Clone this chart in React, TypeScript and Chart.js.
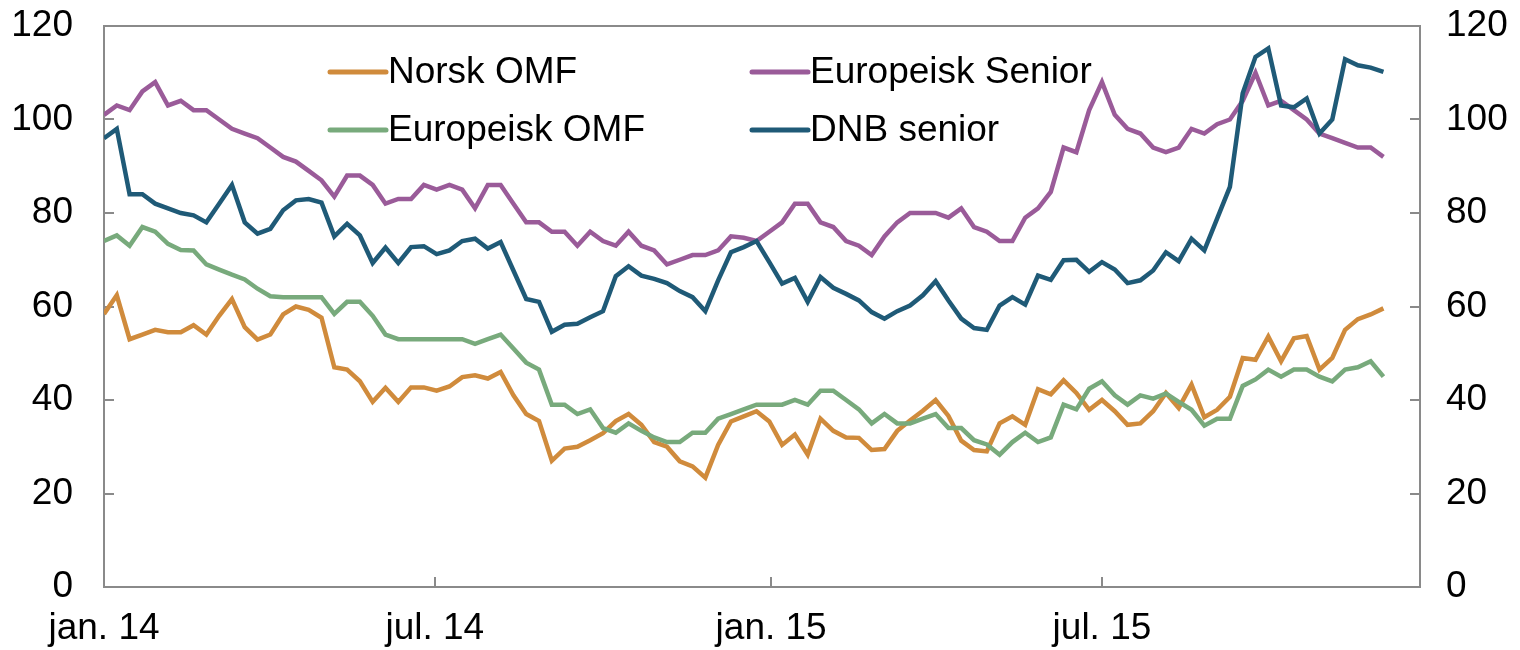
import React, { useEffect, useRef } from "react";
import { Chart, registerables } from "chart.js";

Chart.register(...registerables);

// ---- data ----
const weekStepDays = 7;
const xMaxDays = 720;
const tickDays = [0, 181, 365, 546];
const tickLabels = ["jan. 14", "jul. 14", "jan. 15", "jul. 15"];
const yTicks = [0, 20, 40, 60, 80, 100, 120];

const seriesNames = ["Norsk OMF", "Europeisk Senior", "Europeisk OMF", "DNB senior"];
const seriesColors = ["#D08B3C", "#9A5B99", "#78AA7C", "#1F5A77"];

const norskOMF = [
  58.4, 62.4, 53, 54, 55, 54.5, 54.5, 56, 54, 58,
  61.6, 55.6, 52.9, 54, 58.3, 60, 59.3, 57.6, 47, 46.5,
  44, 39.6, 42.6, 39.6, 42.7, 42.7, 42, 42.9, 44.9, 45.3,
  44.6, 46, 41, 37, 35.5, 27, 29.6, 30, 31.4, 32.9,
  35.5, 37, 34.7, 31, 30, 26.9, 25.8, 23.4, 30.4, 35.4,
  36.5, 37.6, 35.4, 30.4, 32.6, 28.3, 36, 33.4, 32, 31.9,
  29.3, 29.5, 33.4, 35.6, 37.7, 40, 36.6, 31.3, 29.3, 29,
  35, 36.5, 34.7, 42.3, 41.2, 44.2, 41.5, 37.9, 40, 37.6,
  34.7, 35, 37.6, 41.5, 38.3, 43.3, 36.3, 37.9, 40.7, 49,
  48.6, 53.6, 48.3, 53.2, 53.7, 46.5, 49, 55, 57.3, 58.3,
  59.6,
];

const europeiskSenior = [
  101, 103, 102, 106, 108, 103, 104, 102, 102, 100,
  98, 97, 96, 94, 92, 91, 89, 87, 83.5, 88,
  88, 86, 82, 83, 83, 86, 85, 86, 85, 81,
  86, 86, 82, 78, 78, 76, 76, 73, 76, 74,
  73, 76, 73, 72, 69, 70, 71, 71, 72, 75,
  74.7, 74, 76, 78, 82, 82, 78, 77, 74, 73,
  71, 75, 78, 80, 80, 80, 79, 81, 77, 76,
  74, 74, 79, 81, 84.5, 94, 93, 102, 108, 101,
  98, 97, 94, 93, 94, 98, 97, 99, 100, 104,
  110, 103, 104, 102, 100, 97, 96, 95, 94, 94,
  92,
];

const europeiskOMF = [
  74, 75.2, 73, 77, 76, 73.4, 72.1, 72, 69, 67.9,
  66.8, 65.8, 63.8, 62.2, 62, 62, 62, 62, 58.4, 61,
  61, 58, 54, 53, 53, 53, 53, 53, 53, 52,
  53, 54, 51, 48, 46.5, 39, 39, 37, 38, 34,
  33, 35, 33.4, 32, 31, 31, 33, 33, 36, 37,
  38, 39, 39, 39, 40, 39, 42, 42, 40, 38,
  35, 37, 35, 35, 36, 37, 34, 34, 31.4, 30.5,
  28.3, 31, 33, 31, 32, 39, 38, 42.4, 44, 41,
  39, 41, 40.3, 41.4, 39.6, 37.9, 34.5, 36, 36, 43,
  44.4, 46.5, 45, 46.5, 46.5, 45, 44, 46.5, 47, 48.3,
  45,
];

const dnbSenior = [
  96, 98, 84, 84, 82, 81, 80, 79.5, 78, 82,
  86, 78, 75.6, 76.6, 80.6, 82.7, 83, 82.2, 75, 77.7,
  75.2, 69.3, 72.6, 69.3, 72.7, 72.9, 71.2, 72, 74, 74.5,
  72.4, 73.8, 67.7, 61.6, 61, 54.6, 56.1, 56.3, 57.7, 59,
  66.5, 68.6, 66.6, 65.9, 65, 63.3, 62, 59, 65.6, 71.6,
  72.7, 74, 69.5, 64.9, 66.1, 61, 66.3, 64, 62.7, 61.3,
  58.8, 57.4, 59, 60.2, 62.4, 65.4, 61.3, 57.4, 55.4, 55,
  60.2, 62, 60.4, 66.6, 65.7, 69.9, 70, 67.4, 69.5, 67.9,
  65, 65.6, 67.7, 71.6, 69.7, 74.5, 72, 78.8, 85.6, 105.6,
  113.4, 115.2, 103, 102.6, 104.5, 97, 100, 112.9, 111.6, 111.1,
  110.2,
];

const seriesValues = [norskOMF, europeiskSenior, europeiskOMF, dnbSenior];
// drawing order: DNB on top, Norsk OMF at the bottom
const seriesOrder = [3, 2, 1, 0];

// ---- styling ----
const FONT_FAMILY = '"Liberation Sans", Arial, Helvetica, sans-serif';
const FONT_SIZE = 37;
const AXIS_COLOR = "#8a8a8a";
const W = 1520;
const H = 650;

const legendLayout = [
  { col: 0, row: 0 },
  { col: 1, row: 0 },
  { col: 0, row: 1 },
  { col: 1, row: 1 },
];

const insideLegend = {
  id: "insideLegend",
  afterDraw(chart: any) {
    const { ctx, chartArea } = chart;
    const colX = [chartArea.left + 226, chartArea.left + 648];
    const rowY = [chartArea.top + 46, chartArea.top + 104];
    const lineLen = 56;
    ctx.save();
    ctx.font = `${FONT_SIZE}px ${FONT_FAMILY}`;
    ctx.textBaseline = "middle";
    ctx.textAlign = "left";
    chart.data.datasets.forEach((ds: any, i: number) => {
      const pos = legendLayout[i];
      const x = colX[pos.col];
      const y = rowY[pos.row];
      ctx.strokeStyle = ds.borderColor;
      ctx.lineWidth = 5;
      ctx.lineCap = "round";
      ctx.beginPath();
      ctx.moveTo(x, y);
      ctx.lineTo(x + lineLen, y);
      ctx.stroke();
      ctx.fillStyle = "#000";
      ctx.fillText(ds.label, x + lineLen + 2, y + 1);
    });
    ctx.restore();
  },
};

const topBorder = {
  id: "topBorder",
  afterDraw(chart: any) {
    const { ctx, chartArea } = chart;
    ctx.save();
    ctx.strokeStyle = AXIS_COLOR;
    ctx.lineWidth = 2;
    ctx.beginPath();
    ctx.moveTo(chartArea.left, chartArea.top);
    ctx.lineTo(chartArea.right + 1, chartArea.top);
    ctx.stroke();
    ctx.restore();
  },
};

const zeroPad = (scale: any) => {
  scale.paddingTop = 0;
  scale.paddingBottom = 0;
  scale.paddingLeft = 0;
  scale.paddingRight = 0;
};

export default function App() {
  const canvasRef = useRef<HTMLCanvasElement | null>(null);

  useEffect(() => {
    if (!canvasRef.current) return;
    const datasets = seriesNames.map((name, s) => ({
      label: name,
      data: seriesValues[s].map((v, i) => ({ x: i * weekStepDays, y: v })),
      borderColor: seriesColors[s],
      backgroundColor: seriesColors[s],
      borderWidth: 4.5,
      pointRadius: 0,
      tension: 0,
      fill: false,
      order: seriesOrder[s],
      yAxisID: "y",
    }));

    const tickFont = { family: FONT_FAMILY, size: FONT_SIZE };
    const gridCommon = {
      drawOnChartArea: false,
      drawTicks: true,
      tickLength: -10,
      color: AXIS_COLOR,
      lineWidth: 2,
    };
    const borderCommon = { display: true, color: AXIS_COLOR, width: 2 };

    const chart = new Chart(canvasRef.current, {
      type: "line",
      data: { datasets },
      plugins: [topBorder, insideLegend],
      options: {
        animation: false,
        responsive: false,
        devicePixelRatio: 1,
        layout: { padding: { top: 26, left: 0, right: 0, bottom: 0 } },
        plugins: {
          legend: { display: false },
          tooltip: { enabled: false },
        },
        scales: {
          x: {
            type: "linear",
            position: "bottom",
            min: 0,
            max: xMaxDays,
            afterBuildTicks: (scale: any) => {
              scale.ticks = tickDays.map((v) => ({ value: v }));
            },
            afterFit: (scale: any) => {
              scale.height = 63;
              zeroPad(scale);
            },
            ticks: {
              autoSkip: false,
              maxRotation: 0,
              minRotation: 0,
              padding: 30,
              color: "#000",
              font: tickFont,
              callback: (value: any) => {
                const idx = tickDays.indexOf(Number(value));
                return idx >= 0 ? tickLabels[idx] : "";
              },
            },
            grid: gridCommon,
            border: borderCommon,
          },
          y: {
            type: "linear",
            position: "left",
            min: 0,
            max: 120,
            afterBuildTicks: (scale: any) => {
              scale.ticks = yTicks.map((v) => ({ value: v }));
            },
            afterFit: (scale: any) => {
              scale.width = 104;
              zeroPad(scale);
            },
            ticks: { padding: 41, color: "#000", font: tickFont },
            grid: gridCommon,
            border: borderCommon,
          },
          y2: {
            type: "linear",
            position: "right",
            min: 0,
            max: 120,
            afterBuildTicks: (scale: any) => {
              scale.ticks = yTicks.map((v) => ({ value: v }));
            },
            afterFit: (scale: any) => {
              scale.width = 100;
              zeroPad(scale);
            },
            ticks: { padding: 36, color: "#000", font: tickFont },
            grid: gridCommon,
            border: borderCommon,
          },
        },
      },
    } as any);

    return () => chart.destroy();
  }, []);

  return (
    <div style={{ position: "fixed", left: 0, top: 0, width: W, height: H, background: "#fff" }}>
      <canvas ref={canvasRef} width={W} height={H} style={{ display: "block" }} />
    </div>
  );
}
